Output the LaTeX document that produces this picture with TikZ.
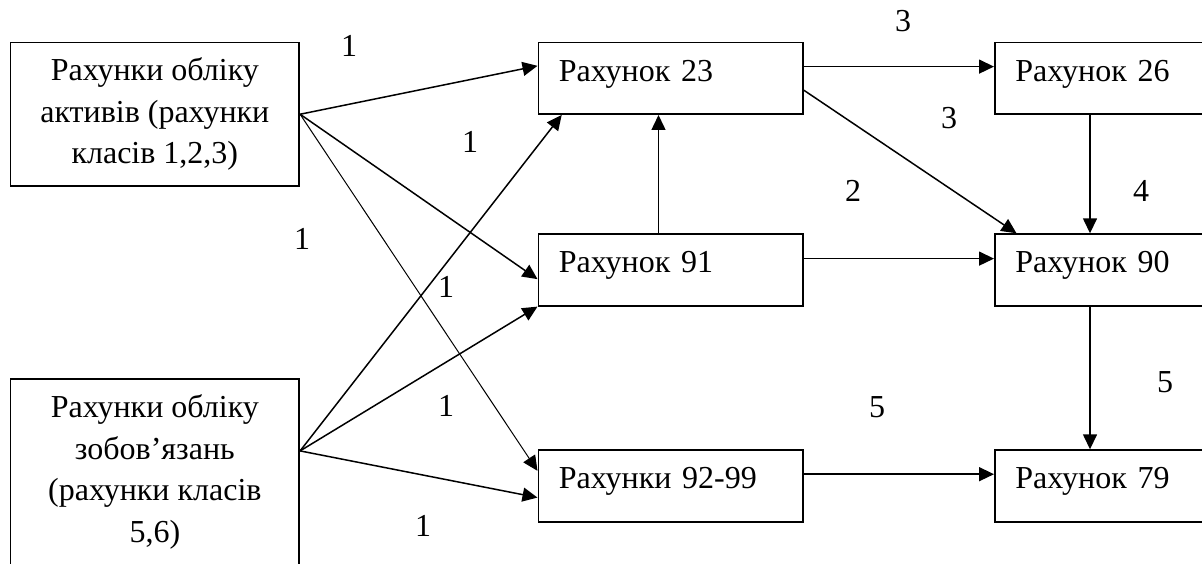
\documentclass[tikz,border=0pt]{standalone}
\usepackage{fontspec}
\setmainfont{Liberation Serif}
\usetikzlibrary{arrows.meta,calc}
\begin{document}
\begin{tikzpicture}[x=1pt,y=-1pt,
  every node/.style={font=\fontsize{32}{41.7}\selectfont},
  bigbox/.style={draw, line width=1.8pt, rectangle, anchor=north west, minimum width=288.7pt, align=center, inner sep=0pt},
  midbox/.style={draw, line width=1.8pt, rectangle, anchor=north west, minimum height=71.5pt, text height=22pt, text depth=16pt, inner ysep=0pt, inner xsep=20.5pt, text width=223.5pt, align=left},
  rightbox/.style={midbox, text width=220pt},
  conn/.style={line width=1.5pt, -{Triangle[length=15pt,width=14pt]}},
  thinconn/.style={conn, line width=1pt},
  lbl/.style={inner sep=0pt}
]
\useasboundingbox (0,0) rectangle (1202,564);
\clip (0,0) rectangle (1202,563.0);
% boxes
\node[bigbox, minimum height=143.3pt] (A) at (9.6,41.7) {Рахунки обліку\\активів (рахунки\\класів 1,2,3)};
\node[bigbox, minimum height=186pt] (B) at (9.6,378) {Рахунки обліку\\зобов’язань\\(рахунки класів\\5,6)};
\node[midbox] (r23) at (537.5,41.7) {Рахунок 23};
\node[rightbox] (r26) at (994,41.7) {Рахунок 26};
\node[midbox] (r91) at (537.5,233.3) {Рахунок 91};
\node[rightbox] (r90) at (994,233.3) {Рахунок 90};
\node[midbox] (r92) at (537.5,449.3) {Рахунки 92-99};
\node[rightbox] (r79) at (994,449.3) {Рахунок 79};
\coordinate (bo) at ($(B.east)+(0,-21)$);
% connectors
\draw[conn] (A.east) -- ($(r23.west)+(0,-12.5)$);
\draw[conn] (A.east) -- ($(r91.west)+(0,9.2)$);
\draw[thinconn] (A.east) -- ($(r92.west)+(0,-15.1)$);
\draw[conn] (bo) -- ($(r23.south west)+(24.2,0)$);
\draw[conn] (bo) -- (r91.south west);
\draw[conn] (bo) -- ($(r92.west)+(0,11.6)$);
\draw[conn] ($(r91.north)+(-12.15,0)$) -- ($(r23.south)+(-12.15,0)$);
\draw[conn] ($(r23.east)+(0,-11.75)$) -- ($(r26.west)+(0,-11.75)$);
\draw[conn] ($(r23.east)+(0,11.85)$) -- ($(r90.north west)+(22.5,0)$);
\draw[conn] ($(r26.south west)+(96,0)$) -- ($(r90.north west)+(96,0)$);
\draw[conn] ($(r91.east)+(0,-11.35)$) -- ($(r90.west)+(0,-11.35)$);
\draw[conn] ($(r90.south west)+(96,0)$) -- ($(r79.north west)+(96,0)$);
\draw[conn] ($(r92.east)+(0,-11.75)$) -- ($(r79.west)+(0,-11.75)$);
% labels
\node[lbl] (l1) at (349,46) {1};
\node[lbl] (l2) at (470,141.7) {1};
\node[lbl] (l3) at (302,239) {1};
\node[lbl] (l4) at (446,286.7) {1};
\node[lbl] (l5) at (446,406) {1};
\node[lbl] (l6) at (423,526) {1};
\node[lbl] (l7) at (903,21) {3};
\node[lbl] (l8) at (949,118.3) {3};
\node[lbl] (l9) at (853,190.7) {2};
\node[lbl] (l10) at (1141,190.7) {4};
\node[lbl] (l11) at (877,406.7) {5};
\node[lbl] (l12) at (1165,381.7) {5};
\end{tikzpicture}
\end{document}
